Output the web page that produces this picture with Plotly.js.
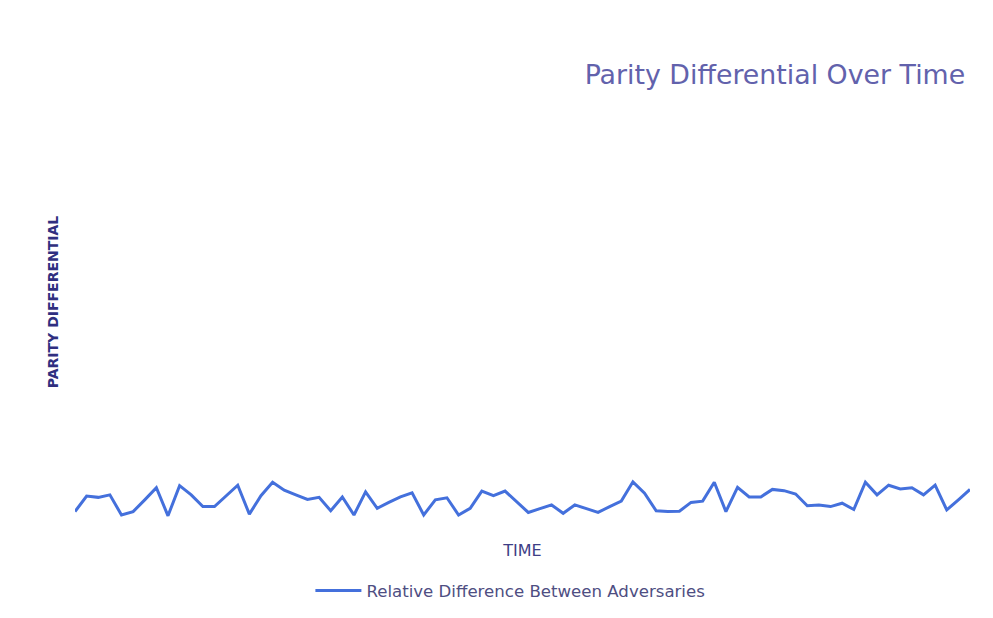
<!DOCTYPE html>
<html>
<head>
<meta charset="utf-8">
<script src="https://cdn.plot.ly/plotly-3.0.1.min.js"></script>
<style>
  html, body { margin: 0; padding: 0; background: #ffffff; }
  #chart { width: 993px; height: 618px; }
</style>
</head>
<body>
<div id="chart"></div>
<script>
// Relative difference between the two adversaries at each time step
const seriesName = "Relative Difference Between Adversaries";
const parityDiff = [
  2.0, 5.7, 5.4, 6.0, 1.2, 2.0, 4.8, 7.7, 1.0, 8.2,
  6.0, 3.2, 3.2, 5.7, 8.3, 1.4, 5.8, 9.0, 7.1, 6.0,
  4.9, 5.4, 2.2, 5.5, 1.2, 6.7, 2.8, 4.2, 5.5, 6.5,
  1.2, 4.8, 5.3, 1.2, 2.8, 6.9, 5.8, 6.9, 4.4, 1.8,
  2.7, 3.6, 1.6, 3.6, 2.7, 1.8, 3.2, 4.5, 9.1, 6.4,
  2.2, 2.0, 2.1, 4.2, 4.5, 9.0, 2.0, 7.8, 5.5, 5.5,
  7.3, 7.0, 6.2, 3.4, 3.6, 3.2, 4.0, 2.5, 9.0, 6.0,
  8.3, 7.4, 7.7, 6.0, 8.3, 2.4, 4.8, 7.3
];

const chartTitle = "Parity Differential Over Time";
const xTitle = "TIME";
const yTitle = "PARITY DIFFERENTIAL";

const trace = {
  y: parityDiff,
  type: "scatter",
  mode: "lines",
  name: seriesName,
  line: { color: "#4470dc", width: 3 },
  hoverinfo: "y"
};

const layout = {
  width: 993,
  height: 618,
  paper_bgcolor: "#ffffff",
  plot_bgcolor: "#ffffff",
  margin: { l: 75, r: 23, t: 84, b: 98 },
  font: { family: "DejaVu Sans, sans-serif" },
  title: {
    text: chartTitle,
    font: { family: "DejaVu Sans, sans-serif", size: 26.8, color: "#6262ac" },
    xref: "container",
    x: 0.972,
    xanchor: "right",
    yref: "container",
    y: 0.879,
    yanchor: "middle"
  },
  xaxis: {
    range: [0, parityDiff.length - 1],
    showgrid: false,
    zeroline: false,
    showline: false,
    showticklabels: false,
    ticks: "",
    title: {
      text: xTitle,
      font: { family: "DejaVu Sans, sans-serif", size: 16, color: "#3e3e86" },
      standoff: 24
    }
  },
  yaxis: {
    range: [0, 104],
    showgrid: false,
    zeroline: false,
    showline: false,
    showticklabels: false,
    ticks: "",
    title: {
      text: "<b>" + yTitle + "</b>",
      font: { family: "DejaVu Sans, sans-serif", size: 14, color: "#2f2f80" },
      standoff: 12
    }
  },
  showlegend: true,
  legend: {
    orientation: "h",
    xref: "container",
    x: 0.514,
    xanchor: "center",
    yref: "container",
    y: 0.044,
    yanchor: "middle",
    itemwidth: 46,
    font: { family: "DejaVu Sans, sans-serif", size: 16.6, color: "#4e4e82" },
    bgcolor: "rgba(0,0,0,0)"
  }
};

Plotly.newPlot("chart", [trace], layout, { displayModeBar: false, staticPlot: true });
</script>
</body>
</html>
